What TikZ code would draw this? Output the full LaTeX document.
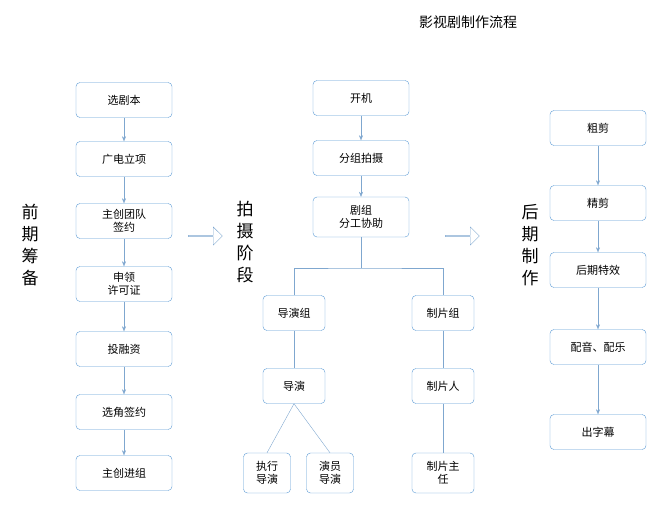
\documentclass[tikz,border=0pt]{standalone}
\usepackage{fontspec}
\setmainfont{Noto Sans CJK SC}
\usetikzlibrary{positioning}
\usetikzlibrary{shapes}
\usetikzlibrary{arrows.meta}
\definecolor{boxline}{HTML}{5B9BD5}
\definecolor{linkline}{HTML}{7FA7CF}
\tikzset{
  stage/.style={draw=boxline, fill=white, rounded corners=4pt, minimum width=96pt, minimum height=35pt, align=center, font=\fontsize{11}{13}\selectfont, inner sep=1pt},
  small/.style={stage, minimum width=62pt},
  tiny/.style={stage, minimum width=47pt, minimum height=40pt},
  link/.style={draw=linkline, -{Stealth[length=5pt,width=4pt]}},
  plain/.style={draw=linkline},
  side/.style={align=center, font=\fontsize{17}{22}\selectfont},
  bigarrow/.style={draw=linkline, single arrow, minimum height=34pt, minimum width=18pt, single arrow head extend=3pt, inner sep=0pt}
}
\begin{document}
\begin{tikzpicture}[x=1pt,y=-1pt]
\useasboundingbox (0,0) rectangle (650,508);
%title
\node (title) at (468,22) {\fontsize{14}{16}\selectfont 影视剧制作流程};
%side labels
\node[side] (pre) at (30,245) {前\\期\\筹\\备};
\node[side] (shoot) at (245,242) {拍\\摄\\阶\\段};
\node[side] (post) at (530,245) {后\\期\\制\\作};
\node[bigarrow] (arrowa) at (205,236) {};
\node[bigarrow] (arrowb) at (462,236) {};
%first column
\node[stage] (a1) at (124,100) {选剧本};
\node[stage] (a2) at (124,159) {广电立项};
\node[stage] (a3) at (124,221) {主创团队\\签约};
\node[stage] (a4) at (124,284) {申领\\许可证};
\node[stage] (a5) at (124,349) {投融资};
\node[stage] (a6) at (124,412) {选角签约};
\node[stage] (a7) at (124,473) {主创进组};
\foreach \i/\j in {a1/a2,a2/a3,a3/a4,a4/a5,a5/a6,a6/a7}
  \draw[link] (\i) -- (\j);
%second column
\node[stage] (b1) at (361,98) {开机};
\node[stage] (b2) at (361,158) {分组拍摄};
\node[stage, minimum height=40pt] (b3) at (361,217) {剧组\\分工协助};
\node[small] (b4) at (294,313) {导演组};
\node[small] (b5) at (443,313) {制片组};
\node[small] (b6) at (294,386) {导演};
\node[small] (b7) at (443,386) {制片人};
\node[tiny] (b8) at (267,473) {执行\\导演};
\node[tiny] (b9) at (330,473) {演员\\导演};
\node[small, minimum height=40pt] (b10) at (443,473) {制片主\\任};
\draw[link] (b1) -- (b2);
\draw[link] (b2) -- (b3);
\coordinate (fork) at (361,268);
\draw[plain] (b3) -- (fork);
\draw[plain] (b4.north) |- (fork) -| (b5.north);
\draw[plain] (b4) -- (b6);
\draw[plain] (b5) -- (b7);
\draw[plain] (b7) -- (b10);
\draw[plain] (b6.south) -- (b8.north);
\draw[plain] (b6.south) -- (b9.north);
%third column
\node[stage] (c1) at (598,128) {粗剪};
\node[stage] (c2) at (598,203) {精剪};
\node[stage] (c3) at (598,270) {后期特效};
\node[stage] (c4) at (598,347) {配音、配乐};
\node[stage] (c5) at (598,432) {出字幕};
\foreach \i/\j in {c1/c2,c2/c3,c3/c4,c4/c5}
  \draw[link] (\i) -- (\j);
\end{tikzpicture}
\end{document}
